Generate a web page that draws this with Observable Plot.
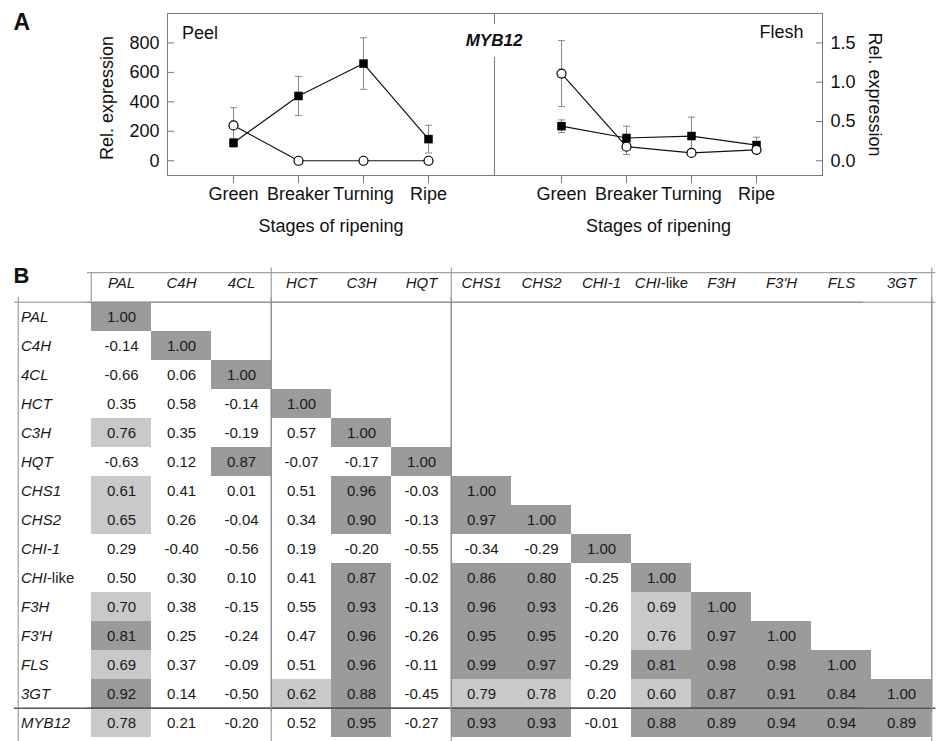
<!DOCTYPE html>
<html><head><meta charset="utf-8">
<script src="https://cdn.jsdelivr.net/npm/d3@7"></script>
<script src="https://cdn.jsdelivr.net/npm/@observablehq/plot@0.6"></script>
<style>
body{margin:0;background:#fff;}
#root{position:relative;width:937px;height:741px;overflow:hidden;font-family:"Liberation Sans",Arial,sans-serif;}
#root svg{position:absolute;}
#myb{position:absolute;left:459px;top:24px;width:70px;height:33px;background:#fff;font-weight:bold;font-style:italic;font-size:17px;line-height:34px;text-align:center;color:#111;z-index:5;}
</style></head><body><div id="root"><div id="myb">MYB12</div></div>
<script>
// ---------- Panel A data ----------
const stages = ["Green", "Breaker", "Turning", "Ripe"];
const peelFilled = [122, 440, 660, 147];
const peelFilledErr = [30, 133, 175, 94];
const peelOpen = [240, 0, 0, 0];
const peelOpenErr = [120, 0, 0, 0];
const fleshFilled = [0.44, 0.29, 0.315, 0.20];
const fleshFilledErr = [0.08, 0.15, 0.24, 0.10];
const fleshOpen = [1.11, 0.18, 0.10, 0.14];
const fleshOpenErr = [0.42, 0.10, 0, 0];
const peelTicks = [0, 200, 400, 600, 800];
const fleshTicks = [0, 0.5, 1.0, 1.5];

// ---------- Panel B data ----------
const genes = ["PAL", "C4H", "4CL", "HCT", "C3H", "HQT", "CHS1", "CHS2", "CHI-1", "CHI-like", "F3H", "F3'H", "FLS", "3GT"];
const rowGenes = ["PAL", "C4H", "4CL", "HCT", "C3H", "HQT", "CHS1", "CHS2", "CHI-1", "CHI-like", "F3H", "F3'H", "FLS", "3GT", "MYB12"];
const corrPAL = [1.00];
const corrC4H = [-0.14, 1.00];
const corr4CL = [-0.66, 0.06, 1.00];
const corrHCT = [0.35, 0.58, -0.14, 1.00];
const corrC3H = [0.76, 0.35, -0.19, 0.57, 1.00];
const corrHQT = [-0.63, 0.12, 0.87, -0.07, -0.17, 1.00];
const corrCHS1 = [0.61, 0.41, 0.01, 0.51, 0.96, -0.03, 1.00];
const corrCHS2 = [0.65, 0.26, -0.04, 0.34, 0.90, -0.13, 0.97, 1.00];
const corrCHI1 = [0.29, -0.40, -0.56, 0.19, -0.20, -0.55, -0.34, -0.29, 1.00];
const corrCHIlike = [0.50, 0.30, 0.10, 0.41, 0.87, -0.02, 0.86, 0.80, -0.25, 1.00];
const corrF3H = [0.70, 0.38, -0.15, 0.55, 0.93, -0.13, 0.96, 0.93, -0.26, 0.69, 1.00];
const corrF3pH = [0.81, 0.25, -0.24, 0.47, 0.96, -0.26, 0.95, 0.95, -0.20, 0.76, 0.97, 1.00];
const corrFLS = [0.69, 0.37, -0.09, 0.51, 0.96, -0.11, 0.99, 0.97, -0.29, 0.81, 0.98, 0.98, 1.00];
const corr3GT = [0.92, 0.14, -0.50, 0.62, 0.88, -0.45, 0.79, 0.78, 0.20, 0.60, 0.87, 0.91, 0.84, 1.00];
const corrMYB12 = [0.78, 0.21, -0.20, 0.52, 0.95, -0.27, 0.93, 0.93, -0.01, 0.88, 0.89, 0.94, 0.94, 0.89];
const corrRows = [corrPAL, corrC4H, corr4CL, corrHCT, corrC3H, corrHQT, corrCHS1, corrCHS2, corrCHI1, corrCHIlike, corrF3H, corrF3pH, corrFLS, corr3GT, corrMYB12];

const FONT = '"Liberation Sans", Arial, sans-serif';
const root = document.getElementById("root");

// horizontal cap symbol for error bars
const capSymbol = {draw(ctx) { ctx.moveTo(-3.5, 0); ctx.lineTo(3.5, 0); }};

function series(vals, errs, kind) {
  return stages.map((s, i) => ({stage: s, v: vals[i], e: errs[i], kind}));
}

function panel({data, domain, ticks, anchor, tickFormat, width, marginLeft, marginRight, extra}) {
  const withErr = data.filter(d => d.e > 0);
  const caps = withErr.flatMap(d => [{stage: d.stage, y: d.v - d.e}, {stage: d.stage, y: d.v + d.e}]);
  return Plot.plot({
    width, height: 250, marginTop: 13, marginBottom: 75, marginLeft, marginRight,
    style: {fontFamily: FONT, fontSize: "18px", color: "#111", background: "transparent", overflow: "visible"},
    x: {type: "point", domain: stages, padding: 1},
    y: {domain},
    marks: [
      Plot.frame({stroke: "#7a7a7a"}),
      Plot.axisX({tickSize: 8, tickPadding: 4, stroke: "#7a7a7a", label: null}),
      Plot.axisY({anchor, ticks, tickFormat, tickSize: -7, tickPadding: 15, stroke: "#7a7a7a", label: null}),
      Plot.line(data, {x: "stage", y: "v", z: "kind", stroke: "#111", strokeWidth: 1.2}),
      Plot.ruleX(withErr, {x: "stage", y1: d => d.v - d.e, y2: d => d.v + d.e, stroke: "#8a8a8a"}),
      Plot.dot(caps, {x: "stage", y: "y", symbol: capSymbol, r: 3.5, fill: "none", stroke: "#8a8a8a", strokeWidth: 1}),
      Plot.dot(data.filter(d => d.kind === "filled"), {x: "stage", y: "v", symbol: "square", r: 4.8, fill: "#000", stroke: "none"}),
      Plot.dot(data.filter(d => d.kind === "open"), {x: "stage", y: "v", r: 4.5, fill: "#fff", stroke: "#000", strokeWidth: 1.2}),
      Plot.text(["Stages of ripening"], {frameAnchor: "bottom", lineAnchor: "middle", dy: 51, text: d => d}),
      ...extra
    ]
  });
}

const peelData = [...series(peelFilled, peelFilledErr, "filled"), ...series(peelOpen, peelOpenErr, "open")];
const fleshData = [...series(fleshFilled, fleshFilledErr, "filled"), ...series(fleshOpen, fleshOpenErr, "open")];

const left = panel({
  data: peelData, domain: [-100, 1000], ticks: peelTicks, anchor: "left", tickFormat: d => String(d),
  width: 494, marginLeft: 167, marginRight: 0,
  extra: [
    Plot.text(["Peel"], {frameAnchor: "top-left", textAnchor: "start", lineAnchor: "middle", dx: 14.5, dy: 19.5, text: d => d}),
    Plot.text(["Rel. expression"], {frameAnchor: "left", textAnchor: "middle", lineAnchor: "middle", rotate: -90, dx: -60, dy: 3.5, text: d => d}),
    Plot.text(["A"], {frameAnchor: "top-left", textAnchor: "start", lineAnchor: "middle", dx: -154, dy: 9, fontWeight: "bold", fontSize: 23, text: d => d})
  ]
});
left.style.left = "0px"; left.style.top = "0px";
root.appendChild(left);

const right = panel({
  data: fleshData, domain: [-0.1875, 1.875], ticks: fleshTicks, anchor: "right", tickFormat: d3.format(".1f"),
  width: 443, marginLeft: 0, marginRight: 115,
  extra: [
    Plot.text(["Flesh"], {frameAnchor: "top-right", textAnchor: "end", lineAnchor: "middle", dx: -19, dy: 18.5, text: d => d}),
    Plot.text(["Rel. expression"], {frameAnchor: "right", textAnchor: "middle", lineAnchor: "middle", rotate: 90, dx: 52, dy: 0, text: d => d})
  ]
});
right.style.left = "494px"; right.style.top = "0px";
root.appendChild(right);

// ---------- Panel B ----------
const cells = corrRows.flatMap((row, r) => row.map((v, c) => ({row: rowGenes[r], col: genes[c], v})));
const tW = 937, tH = 481, mTop = 37, mLeft = 87, mRight = 1.5;
const colW = (tW - mLeft - mRight) / genes.length;
const rowH = (tH - mTop) / rowGenes.length;
const hdrH = 29.5;
const labelW = 73;
const LINE = "#8c8c8c";

const table = Plot.plot({
  width: tW, height: tH, marginTop: mTop, marginLeft: mLeft, marginRight: mRight, marginBottom: 0,
  style: {fontFamily: FONT, fontSize: "15px", color: "#1a1a1a", background: "transparent", overflow: "visible"},
  x: {type: "band", domain: genes, padding: 0, axis: null},
  y: {type: "band", domain: rowGenes, padding: 0, axis: null},
  color: {type: "threshold", domain: [0.6, 0.8], range: ["#ffffff", "#c9c9c9", "#9b9b9b"]},
  marks: [
    Plot.cell(cells, {x: "col", y: "row", fill: "v"}),
    Plot.text(cells, {x: "col", y: "row", text: d => d.v.toFixed(2), fill: "#1a1a1a"}),
    Plot.text(genes, {x: d => d, frameAnchor: "top", lineAnchor: "middle", dy: -14, fontStyle: "italic", text: d => d}),
    Plot.text(rowGenes, {y: d => d, frameAnchor: "left", textAnchor: "start", lineAnchor: "middle", dx: -66.5, fontStyle: "italic", text: d => d}),
    // horizontal lines
    Plot.ruleY(["PAL"], {y: d => d, dy: -rowH / 2 - hdrH, stroke: LINE}),
    Plot.ruleY(["PAL"], {y: d => d, dy: -rowH / 2, stroke: LINE}),
    Plot.ruleY(["PAL"], {y: d => d, dy: -rowH / 2, dx: -labelW, stroke: LINE}),
    Plot.ruleY(["MYB12"], {y: d => d, dy: -rowH / 2, stroke: "#555", strokeWidth: 1.6}),
    Plot.ruleY(["MYB12"], {y: d => d, dy: -rowH / 2, dx: -labelW, stroke: "#555", strokeWidth: 1.6}),
    // vertical lines
    Plot.ruleX(["PAL"], {x: d => d, dx: -colW / 2 - labelW, stroke: LINE}),
    Plot.tickX([{c: "PAL", r: "PAL"}], {x: "c", y: "r", dx: -colW / 2, dy: -hdrH, stroke: LINE}),
    Plot.ruleX(["HCT", "CHS1"], {x: d => d, dx: -colW / 2, stroke: LINE}),
    Plot.ruleX(["HCT", "CHS1"], {x: d => d, dx: -colW / 2, dy: -hdrH, stroke: LINE}),
    Plot.ruleX(["3GT"], {x: d => d, dx: colW / 2, stroke: LINE}),
    Plot.ruleX(["3GT"], {x: d => d, dx: colW / 2, dy: -hdrH, stroke: LINE}),
    Plot.text(["B"], {frameAnchor: "top-left", textAnchor: "start", lineAnchor: "middle", dx: -74, dy: -21.5, fontWeight: "bold", fontSize: 22, fill: "#111", text: d => d})
  ]
});
table.style.left = "0px"; table.style.top = "260px";
root.appendChild(table);

// mixed italic / upright for "CHI-like"
table.querySelectorAll("text").forEach(t => {
  if (t.textContent === "CHI-like") {
    t.textContent = "";
    const ns = "http://www.w3.org/2000/svg";
    const a = document.createElementNS(ns, "tspan");
    a.setAttribute("font-style", "italic"); a.textContent = "CHI";
    const b = document.createElementNS(ns, "tspan");
    b.setAttribute("font-style", "normal"); b.textContent = "-like";
    t.appendChild(a); t.appendChild(b);
  }
});
</script></body></html>
